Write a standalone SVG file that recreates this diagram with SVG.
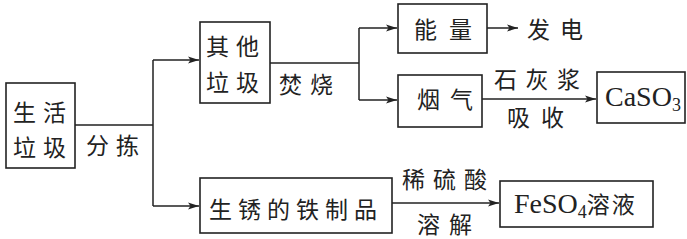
<svg xmlns="http://www.w3.org/2000/svg" width="687" height="239" viewBox="0 0 687 239">
<defs>
<marker id="ah" markerWidth="12" markerHeight="8" refX="11" refY="4" orient="auto" markerUnits="userSpaceOnUse">
<path d="M0,0.5 L11,4 L0,7.5 L2.5,4 Z" fill="#222"/>
</marker>
<style>
.box{fill:#fff;stroke:#222;stroke-width:1.6}
.ln{fill:none;stroke:#222;stroke-width:1.5}
.cn{font-family:"Noto Sans CJK SC","Noto Sans",sans-serif;font-size:23px;fill:#222}
.lat{font-family:"Liberation Serif",serif;font-size:28px;fill:#222}
</style>
</defs>
<rect width="687" height="239" fill="#fff"/>
<g id="connectors">
<path class="ln" d="M75,125 H153 M153,60 V206"/>
<path class="ln" d="M153,60 H199" marker-end="url(#ah)"/>
<path class="ln" d="M153,206 H199" marker-end="url(#ah)"/>
<path class="ln" d="M270,63 H359 M359,28 V100"/>
<path class="ln" d="M359,28 H397" marker-end="url(#ah)"/>
<path class="ln" d="M359,100 H397" marker-end="url(#ah)"/>
<path class="ln" d="M487,28 H518" marker-end="url(#ah)"/>
<path class="ln" d="M482,99 H596" marker-end="url(#ah)"/>
<path class="ln" d="M392,203 H499" marker-end="url(#ah)"/>
</g>
<g id="n-shenghuo">
<rect class="box" x="6" y="83" width="69" height="85"/>
<text class="cn" x="13" y="121" letter-spacing="7">生活</text>
<text class="cn" x="13" y="156" letter-spacing="7">垃圾</text>
</g>
<g id="l-fenjian"><text class="cn" x="86" y="154" letter-spacing="7">分拣</text></g>
<g id="n-qita">
<rect class="box" x="200" y="22" width="70" height="81"/>
<text class="cn" x="206" y="55" letter-spacing="7">其他</text>
<text class="cn" x="206" y="91" letter-spacing="7">垃圾</text>
</g>
<g id="l-fenshao"><text class="cn" x="279" y="93" letter-spacing="8">焚烧</text></g>
<g id="n-nengliang">
<rect class="box" x="398" y="4" width="89" height="49"/>
<text class="cn" x="414" y="38" letter-spacing="12">能量</text>
</g>
<g id="n-fadian"><text class="cn" x="527" y="38" letter-spacing="10">发电</text></g>
<g id="n-yanqi">
<rect class="box" x="398" y="75" width="84" height="52"/>
<text class="cn" x="417" y="108" letter-spacing="10">烟气</text>
</g>
<g id="l-shihui">
<text class="cn" x="494" y="88" letter-spacing="8.5">石灰浆</text>
<text class="cn" x="507" y="126" letter-spacing="11">吸收</text>
</g>
<g id="n-caso3">
<rect class="box" x="597" y="72" width="88" height="51"/>
<text class="lat" x="605" y="106">CaSO<tspan font-size="18" dy="5">3</tspan></text>
</g>
<g id="n-tie">
<rect class="box" x="200" y="178" width="192" height="55"/>
<text class="cn" x="209" y="218" letter-spacing="6">生锈的铁制品</text>
</g>
<g id="l-xiliusuan">
<text class="cn" x="402" y="188" letter-spacing="8">稀硫酸</text>
<text class="cn" x="417" y="233" letter-spacing="9">溶解</text>
</g>
<g id="n-feso4">
<rect class="box" x="500" y="181" width="153" height="46"/>
<text class="lat" x="514" y="213">FeSO<tspan font-size="18" dy="5">4</tspan><tspan class="cn" dy="-5" letter-spacing="2">溶液</tspan></text>
</g>
</svg>
